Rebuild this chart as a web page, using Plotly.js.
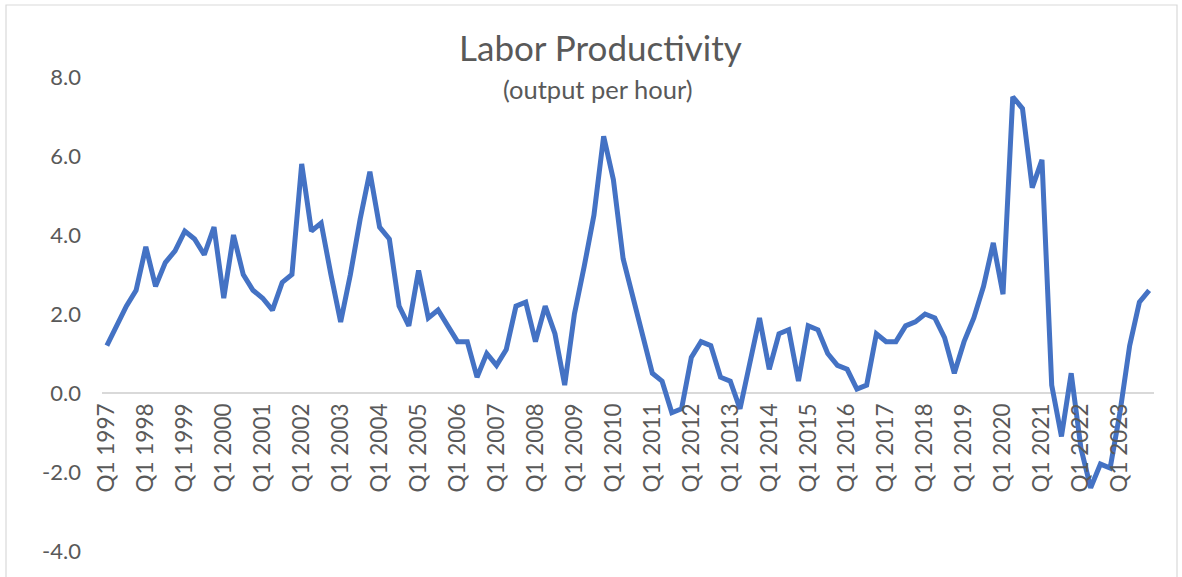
<!DOCTYPE html>
<html>
<head>
<meta charset="utf-8">
<script src="https://cdn.plot.ly/plotly-3.0.1.min.js"></script>
<style>html,body{margin:0;padding:0;background:#fff;}#chart{width:1182px;height:577px;}</style>
</head>
<body>
<div id="chart"></div>
<script>
// Data
var years = [1997,1998,1999,2000,2001,2002,2003,2004,2005,2006,2007,2008,2009,2010,2011,2012,2013,2014,2015,2016,2017,2018,2019,2020,2021,2022,2023];
var quarters = ["Q1","Q2","Q3","Q4"];
var productivity = [
  1.2, 1.7, 2.2, 2.6,
  3.7, 2.7, 3.3, 3.6,
  4.1, 3.9, 3.5, 4.2,
  2.4, 4.0, 3.0, 2.6,
  2.4, 2.1, 2.8, 3.0,
  5.8, 4.1, 4.3, 3.0,
  1.8, 3.0, 4.4, 5.6,
  4.2, 3.9, 2.2, 1.7,
  3.1, 1.9, 2.1, 1.7,
  1.3, 1.3, 0.4, 1.0,
  0.7, 1.1, 2.2, 2.3,
  1.3, 2.2, 1.5, 0.2,
  2.0, 3.2, 4.5, 6.5,
  5.4, 3.4, 2.4, 1.4,
  0.5, 0.3, -0.5, -0.4,
  0.9, 1.3, 1.2, 0.4,
  0.3, -0.4, 0.7, 1.9,
  0.6, 1.5, 1.6, 0.3,
  1.7, 1.6, 1.0, 0.7,
  0.6, 0.1, 0.2, 1.5,
  1.3, 1.3, 1.7, 1.8,
  2.0, 1.9, 1.4, 0.5,
  1.3, 1.9, 2.7, 3.8,
  2.5, 7.5, 7.2, 5.2,
  5.9, 0.2, -1.1, 0.5,
  -1.4, -2.4, -1.8, -1.9,
  -0.5, 1.2, 2.3, 2.6
];
var yTickVals = [-4, -2, 0, 2, 4, 6, 8];
var yTickText = ["-4.0", "-2.0", "0.0", "2.0", "4.0", "6.0", "8.0"];
var chartTitle = "Labor Productivity";
var chartSubtitle = "(output per hour)";

var categories = [];
years.forEach(function(y){ quarters.forEach(function(q){ categories.push(q + " " + y); }); });
var xTickVals = years.map(function(y){ return "Q1 " + y; });

var textColor = "#595959";
var fontFamily = "Lato, 'Open Sans', sans-serif";

var trace = {
  type: "scatter",
  mode: "lines",
  x: categories,
  y: productivity,
  line: {color: "#4472C4", width: 5},
  hoverinfo: "skip"
};

var layout = {
  width: 1182,
  height: 577,
  autosize: false,
  paper_bgcolor: "#ffffff",
  plot_bgcolor: "#ffffff",
  margin: {l: 102, r: 28, t: 77, b: 26, pad: 0},
  showlegend: false,
  font: {family: fontFamily, color: textColor},
  title: {
    text: chartTitle,
    font: {family: fontFamily, size: 35, color: textColor},
    xref: "container", x: 0.508, xanchor: "center",
    yref: "container", y: 1 - 49/577, yanchor: "middle"
  },
  annotations: [{
    text: chartSubtitle,
    xref: "paper", yref: "paper",
    x: (598 - 102) / 1052, y: (551 - 89) / 474,
    xanchor: "center", yanchor: "middle",
    showarrow: false,
    font: {family: fontFamily, size: 25.5, color: textColor}
  }],
  xaxis: {
    type: "category",
    categoryorder: "array",
    categoryarray: categories,
    range: [-0.5, categories.length - 0.5],
    anchor: "free",
    position: (551 - 394) / 474,
    tickmode: "array",
    tickvals: xTickVals,
    ticktext: xTickVals,
    tickangle: -90,
    ticks: "",
    showgrid: false,
    showline: false,
    zeroline: false,
    ticklabelstandoff: 4,
    tickfont: {family: fontFamily, size: 22.5, color: textColor}
  },
  yaxis: {
    range: [-4, 8],
    tickmode: "array",
    tickvals: yTickVals,
    ticktext: yTickText,
    ticks: "",
    showgrid: false,
    showline: false,
    zeroline: true,
    zerolinecolor: "#D9D9D9",
    zerolinewidth: 1.8,
    ticklabelstandoff: 20,
    tickfont: {family: fontFamily, size: 22, color: textColor}
  },
  shapes: [{
    type: "rect",
    xref: "paper", yref: "paper",
    x0: (6 - 102) / 1052, x1: (1177 - 102) / 1052,
    y0: (551 - 600) / 474, y1: (551 - 5) / 474,
    line: {color: "#D9D9D9", width: 1.2},
    fillcolor: "rgba(0,0,0,0)",
    layer: "below"
  }]
};

Plotly.newPlot("chart", [trace], layout, {displayModeBar: false, staticPlot: true});
</script>
</body>
</html>
